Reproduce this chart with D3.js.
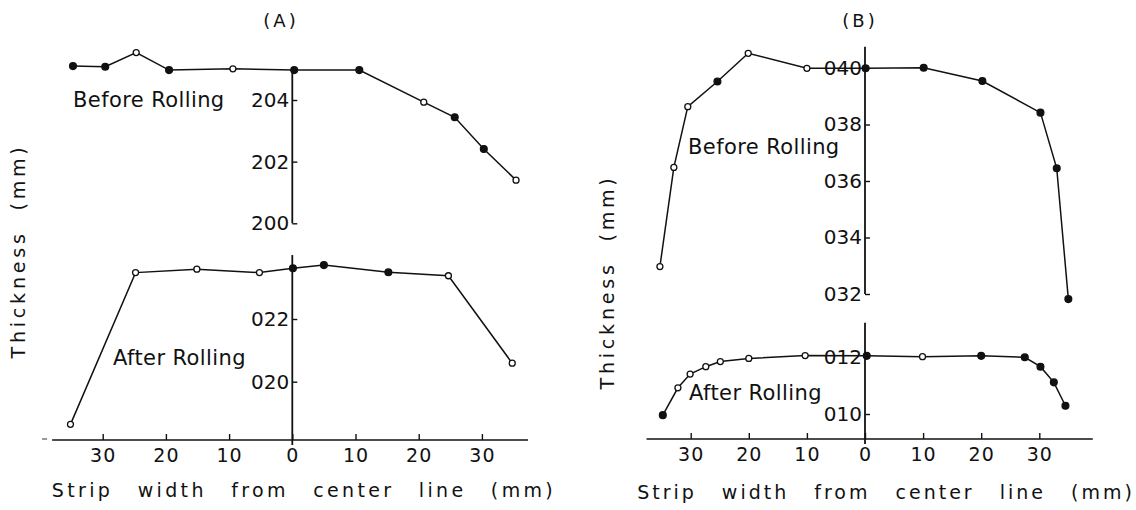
<!DOCTYPE html>
<html>
<head>
<meta charset="utf-8">
<script src="https://cdn.jsdelivr.net/npm/d3@7"></script>
<style>
  html, body { margin: 0; padding: 0; background: #fff; }
  svg { display: block; }
  text { font-family: "DejaVu Sans", sans-serif; fill: #111; }
</style>
</head>
<body>
<svg id="chart" width="1136" height="510"></svg>
<script>
// ---------- data ----------
const xTickValues = [-30, -20, -10, 0, 10, 20, 30];
const xTickLabels = ["30", "20", "10", "0", "10", "20", "30"];

// Panel A
const aBeforeX = [-34.7, -29.6, -24.7, -19.5, -9.4, 0.3, 10.6, 20.8, 25.7, 30.3, 35.4];
const aBeforeY = [2.0510, 2.0508, 2.0554, 2.0497, 2.0501, 2.0497, 2.0497, 2.0393, 2.0344, 2.0241, 2.0140];
const aBeforeFilled = [1, 1, 0, 1, 0, 1, 1, 0, 1, 1, 0];
const aAfterX = [-35.1, -24.8, -15.1, -5.2, 0.1, 5.0, 15.2, 24.7, 34.8];
const aAfterY = [0.1864, 0.2348, 0.2359, 0.2348, 0.2362, 0.2372, 0.2349, 0.2338, 0.2059];
const aAfterFilled = [0, 0, 0, 0, 1, 1, 1, 0, 0];
const aUpperTicks = [2.00, 2.02, 2.04];
const aUpperTickLabels = ["200", "202", "204"];
const aLowerTicks = [0.20, 0.22];
const aLowerTickLabels = ["020", "022"];

// Panel B
const bBeforeX = [-35.3, -32.9, -30.5, -25.4, -20.1, -10.0, 0.1, 10.1, 20.2, 30.2, 33.0, 35.0];
const bBeforeY = [0.03297, 0.03648, 0.03863, 0.03952, 0.04052, 0.03999, 0.03999, 0.04001, 0.03954, 0.03842, 0.03645, 0.03182];
const bBeforeFilled = [0, 0, 0, 1, 0, 0, 1, 1, 1, 1, 1, 1];
const bAfterX = [-34.8, -32.2, -30.1, -27.4, -24.9, -20.0, -10.3, 0.3, 9.9, 20.0, 27.5, 30.2, 32.5, 34.5];
const bAfterY = [0.00996, 0.01092, 0.0114, 0.01166, 0.01184, 0.01195, 0.01205, 0.01204, 0.01201, 0.01204, 0.01199, 0.01166, 0.01111, 0.01029];
const bAfterFilled = [1, 0, 0, 0, 0, 0, 0, 1, 0, 1, 1, 1, 1, 1];
const bUpperTicks = [0.032, 0.034, 0.036, 0.038, 0.040];
const bUpperTickLabels = ["032", "034", "036", "038", "040"];
const bLowerTicks = [0.010, 0.012];
const bLowerTickLabels = ["010", "012"];

const panelTitles = ["(A)", "(B)"];
const yAxisTitle = "Thickness (mm)";
const xAxisTitle = "Strip width from center line (mm)";
const annBefore = "Before Rolling";
const annAfter = "After Rolling";

// ---------- layout ----------
const svg = d3.select("#chart");
const ink = "#111";

const panels = [
  {
    title: panelTitles[0], titleX: 281,
    x: d3.scaleLinear().domain([-30, 30]).range([102.7, 481.9]),
    xExtent: [-38.0, 37.3], baseY: 440, stub: [-39.6, -38.8],
    yUp: d3.scaleLinear().domain([2.00, 2.04]).range([223.3, 100]),
    yUpAxis: [2.00, 2.0497], upTicks: aUpperTicks, upLabels: aUpperTickLabels,
    yLo: d3.scaleLinear().domain([0.20, 0.22]).range([381.7, 319]),
    yLoAxisTop: 0.2404, loTicks: aLowerTicks, loLabels: aLowerTickLabels,
    before: { xs: aBeforeX, ys: aBeforeY, f: aBeforeFilled },
    after: { xs: aAfterX, ys: aAfterY, f: aAfterFilled },
    beforeLabel: [73, 107], afterLabel: [113, 365],
    yTitle: [18, 251],
    xTitle: { x: 304, y: 497, ls: 3.35, ws: 15, fs: 19 }
  },
  {
    title: panelTitles[1], titleX: 860,
    x: d3.scaleLinear().domain([-30, 30]).range([690.7, 1039.3]),
    xExtent: [-37.6, 39.2], baseY: 439, stub: null,
    yUp: d3.scaleLinear().domain([0.032, 0.040]).range([294, 68]),
    yUpAxis: [0.032, 0.04075], upTicks: bUpperTicks, upLabels: bUpperTickLabels,
    yLo: d3.scaleLinear().domain([0.010, 0.012]).range([414, 357]),
    yLoAxisTop: 0.0132, loTicks: bLowerTicks, loLabels: bLowerTickLabels,
    before: { xs: bBeforeX, ys: bBeforeY, f: bBeforeFilled },
    after: { xs: bAfterX, ys: bAfterY, f: bAfterFilled },
    beforeLabel: [688, 154], afterLabel: [689, 400],
    yTitle: [607, 282],
    xTitle: { x: 886, y: 499, ls: 3.0, ws: 16, fs: 19 }
  }
];

panels.forEach(p => {
  const g = svg.append("g");

  // title
  g.append("text").attr("x", p.titleX).attr("y", 27)
    .attr("text-anchor", "middle").attr("font-size", 18)
    .attr("letter-spacing", 3).text(p.title);

  // x axis
  const xAxis = d3.axisBottom(p.x)
    .tickValues(xTickValues)
    .tickFormat((d, i) => xTickLabels[i])
    .tickSizeInner(-6).tickSizeOuter(0).tickPadding(9);
  const xg = g.append("g").attr("transform", `translate(0,${p.baseY})`).call(xAxis);
  xg.select(".domain").remove();
  xg.selectAll(".tick line").attr("stroke", ink).attr("stroke-width", 1.4);
  xg.selectAll(".tick text").attr("font-size", 19).attr("font-family", "DejaVu Sans")
    .attr("fill", ink).attr("letter-spacing", 1);
  xg.append("line")
    .attr("x1", p.x(p.xExtent[0])).attr("x2", p.x(p.xExtent[1]))
    .attr("y1", 0).attr("y2", 0).attr("stroke", ink).attr("stroke-width", 1.6);
  if (p.stub) {
    xg.append("line")
      .attr("x1", p.x(p.stub[0])).attr("x2", p.x(p.stub[1]))
      .attr("y1", -1).attr("y2", -1).attr("stroke", "#555").attr("stroke-width", 1.2);
  }

  const cx = p.x(0);

  // upper y axis
  const upAxis = d3.axisLeft(p.yUp).tickValues(p.upTicks)
    .tickFormat((d, i) => p.upLabels[i])
    .tickSizeInner(-5).tickSizeOuter(0).tickPadding(3);
  const ug = g.append("g").attr("transform", `translate(${cx},0)`).call(upAxis);
  ug.select(".domain").remove();
  ug.selectAll(".tick line").attr("stroke", ink).attr("stroke-width", 1.4);
  ug.selectAll(".tick text").attr("font-size", 20).attr("font-family", "DejaVu Sans").attr("fill", ink);
  ug.append("line").attr("x1", 0).attr("x2", 0)
    .attr("y1", p.yUp(p.yUpAxis[0])).attr("y2", p.yUp(p.yUpAxis[1]))
    .attr("stroke", ink).attr("stroke-width", 1.8);

  // lower y axis
  const loAxis = d3.axisLeft(p.yLo).tickValues(p.loTicks)
    .tickFormat((d, i) => p.loLabels[i])
    .tickSizeInner(-5).tickSizeOuter(0).tickPadding(3);
  const lg = g.append("g").attr("transform", `translate(${cx},0)`).call(loAxis);
  lg.select(".domain").remove();
  lg.selectAll(".tick line").attr("stroke", ink).attr("stroke-width", 1.4);
  lg.selectAll(".tick text").attr("font-size", 20).attr("font-family", "DejaVu Sans").attr("fill", ink);
  lg.append("line").attr("x1", 0).attr("x2", 0)
    .attr("y1", p.yLo(p.yLoAxisTop)).attr("y2", p.baseY + 5)
    .attr("stroke", ink).attr("stroke-width", 1.8);

  // series
  const drawSeries = (s, yScale) => {
    const pts = s.xs.map((v, i) => ({ x: v, y: s.ys[i], f: s.f[i] }));
    const line = d3.line().x(d => p.x(d.x)).y(d => yScale(d.y));
    g.append("path").datum(pts).attr("d", line)
      .attr("fill", "none").attr("stroke", ink).attr("stroke-width", 1.5);
    g.selectAll(null).data(pts).enter().append("circle")
      .attr("cx", d => p.x(d.x)).attr("cy", d => yScale(d.y))
      .attr("r", d => d.f ? 3.4 : 3)
      .attr("fill", d => d.f ? ink : "#fff")
      .attr("stroke", ink).attr("stroke-width", 1.3);
  };
  drawSeries(p.before, p.yUp);
  drawSeries(p.after, p.yLo);

  // annotations
  g.append("text").attr("x", p.beforeLabel[0]).attr("y", p.beforeLabel[1])
    .attr("font-size", 21).attr("letter-spacing", 0.4).text(annBefore);
  g.append("text").attr("x", p.afterLabel[0]).attr("y", p.afterLabel[1])
    .attr("font-size", 21).attr("letter-spacing", 0.4).text(annAfter);

  // axis titles
  g.append("text")
    .attr("transform", `translate(${p.yTitle[0]},${p.yTitle[1]}) rotate(-90)`)
    .attr("text-anchor", "middle").attr("dominant-baseline", "central")
    .attr("font-size", 19).attr("letter-spacing", 3.8).attr("word-spacing", 10)
    .text(yAxisTitle);
  g.append("text").attr("x", p.xTitle.x).attr("y", p.xTitle.y)
    .attr("text-anchor", "middle").attr("font-size", p.xTitle.fs)
    .attr("letter-spacing", p.xTitle.ls).attr("word-spacing", p.xTitle.ws)
    .text(xAxisTitle);
});
</script>
</body>
</html>
